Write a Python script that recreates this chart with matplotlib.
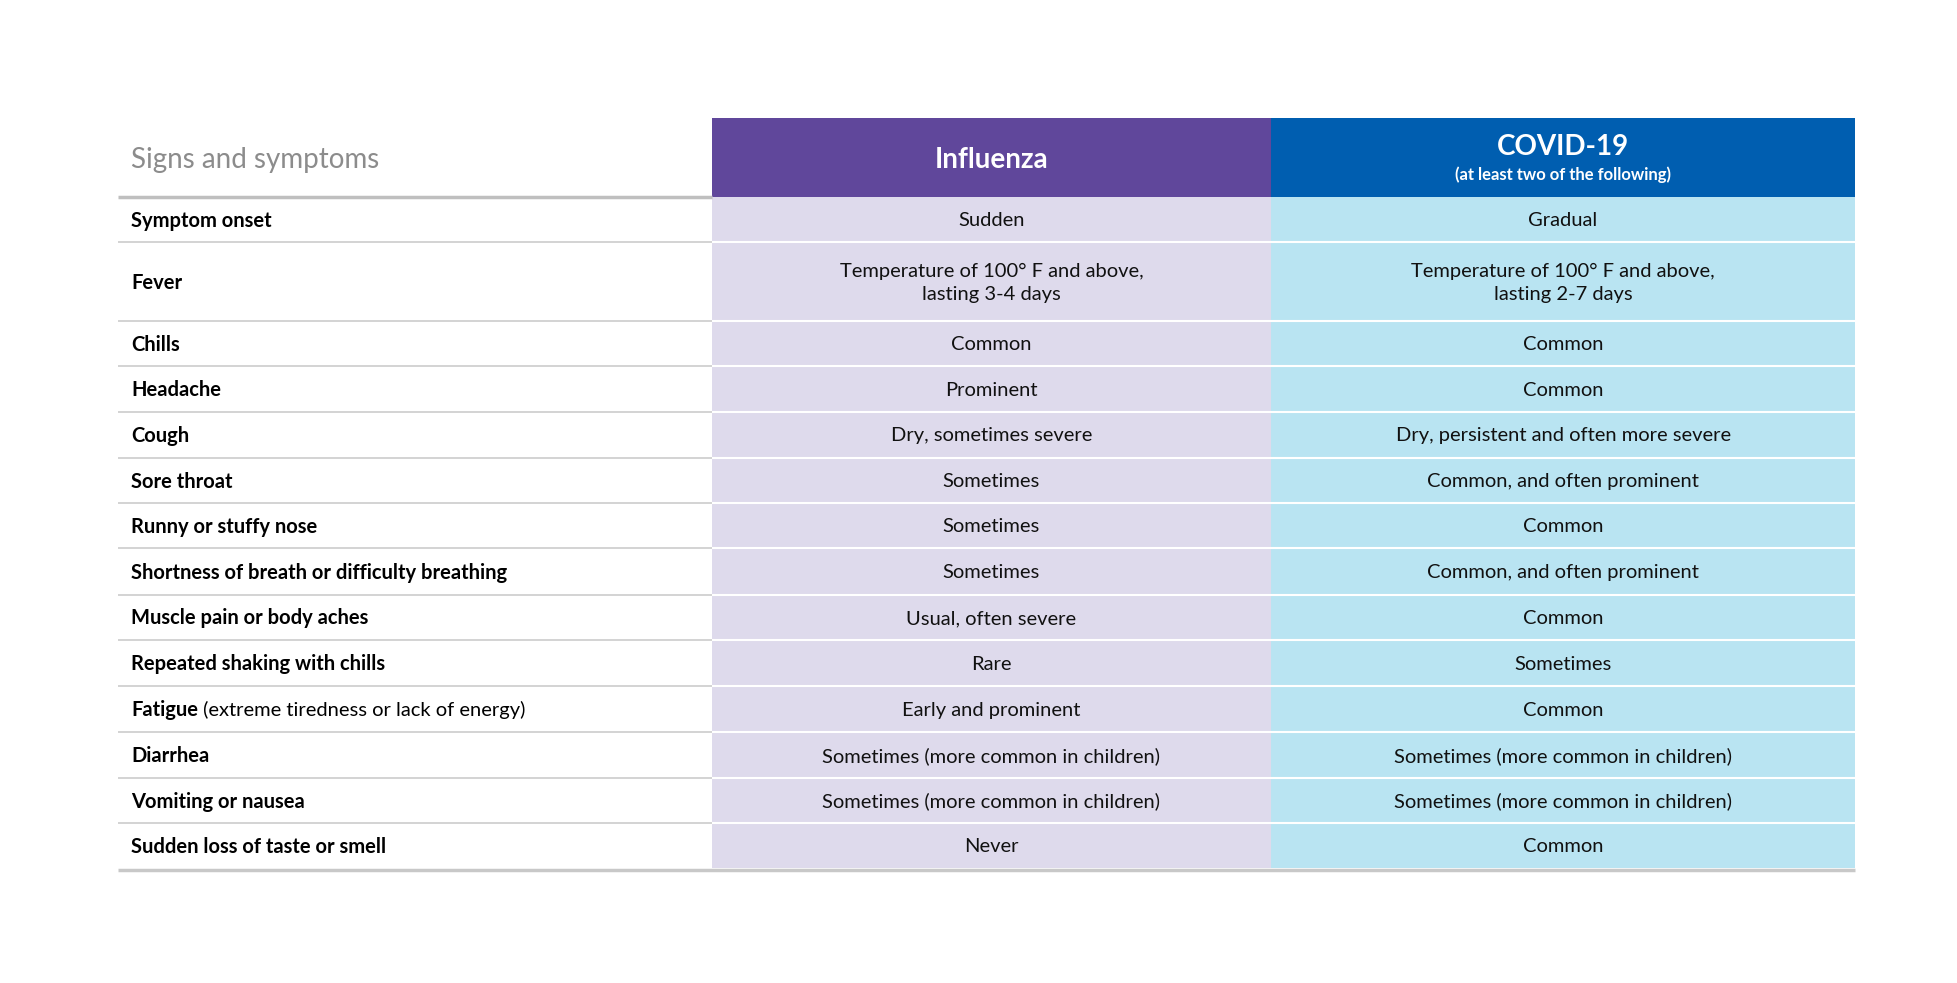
import matplotlib
matplotlib.use("Agg")
import matplotlib.pyplot as plt
from matplotlib.patches import Rectangle

symptoms = ["Symptom onset", "Fever", "Chills", "Headache", "Cough", "Sore throat",
            "Runny or stuffy nose", "Shortness of breath or difficulty breathing",
            "Muscle pain or body aches", "Repeated shaking with chills", "Fatigue",
            "Diarrhea", "Vomiting or nausea", "Sudden loss of taste or smell"]
symptom_notes = {"Fatigue": " (extreme tiredness or lack of energy)"}
influenza = ["Sudden", "Temperature of 100° F and above,\nlasting 3-4 days", "Common", "Prominent",
             "Dry, sometimes severe", "Sometimes", "Sometimes", "Sometimes", "Usual, often severe",
             "Rare", "Early and prominent", "Sometimes (more common in children)",
             "Sometimes (more common in children)", "Never"]
covid = ["Gradual", "Temperature of 100° F and above,\nlasting 2-7 days", "Common", "Common",
         "Dry, persistent and often more severe", "Common, and often prominent", "Common",
         "Common, and often prominent", "Common", "Sometimes", "Common",
         "Sometimes (more common in children)", "Sometimes (more common in children)", "Common"]
headers = ["Signs and symptoms", "Influenza", "COVID-19"]
covid_sub = "(at least two of the following)"

S = 1.255
x0, x1, x2, x3 = 94*S, 567*S, 1013*S, 1478*S
htop, hbot = 94*S, 157*S
row_edges = [157, 193, 256, 292, 328, 365, 401, 437, 474, 510, 547, 583, 620, 656, 692]
row_edges = [r*S for r in row_edges]

FONT = "Lato"
fig = plt.figure(figsize=(19.58, 9.83), dpi=100)
ax = fig.add_axes([0, 0, 1, 1])
ax.set_xlim(0, 1958); ax.set_ylim(983, 0); ax.axis("off")

ax.add_patch(Rectangle((x1, htop), x2-x1, hbot-htop, color="#60479B", lw=0))
ax.add_patch(Rectangle((x2, htop), x3-x2, hbot-htop, color="#005EB0", lw=0))
ax.add_patch(Rectangle((x1, hbot), x2-x1, row_edges[-1]-hbot, color="#DEDAEC", lw=0))
ax.add_patch(Rectangle((x2, hbot), x3-x2, row_edges[-1]-hbot, color="#B9E4F2", lw=0))

ax.text(x0+13, (htop+hbot)/2+2, headers[0], fontfamily=FONT, fontsize=20, color="#8C8C8C", va="center")
ax.text((x1+x2)/2, (htop+hbot)/2+2, headers[1], fontfamily=FONT, fontsize=20, fontweight="bold", color="white", ha="center", va="center")
ax.text((x2+x3)/2, (htop+hbot)/2-11, headers[2], fontfamily=FONT, fontsize=20, fontweight="bold", color="white", ha="center", va="center")
ax.text((x2+x3)/2, (htop+hbot)/2+17, covid_sub, fontfamily=FONT, fontsize=12, fontweight="bold", color="white", ha="center", va="center")

ax.plot([x0, x1], [hbot, hbot], color="#BFBFBF", lw=2.5, solid_capstyle="butt")
for i, r in enumerate(row_edges[1:-1]):
    ax.plot([x0, x1], [r, r], color="#CCCCCC", lw=1.2, solid_capstyle="butt")
    ax.plot([x1, x3], [r, r], color="white", lw=1.5, solid_capstyle="butt")
ax.plot([x0, x3], [row_edges[-1]+1.5, row_edges[-1]+1.5], color="#C8C8C8", lw=2.5, solid_capstyle="butt")

fig.canvas.draw()
rend = fig.canvas.get_renderer()
for i, name in enumerate(symptoms):
    yc = (row_edges[i] + row_edges[i+1]) / 2 + 1
    t = ax.text(x0+13, yc, name, fontfamily=FONT, fontsize=14.5, fontweight="bold", color="black", va="center")
    if name in symptom_notes:
        bb = t.get_window_extent(rend)
        ax.text(bb.x1, yc, symptom_notes[name], fontfamily=FONT, fontsize=14.5, color="black", va="center")
    ax.text((x1+x2)/2, yc, influenza[i], fontfamily=FONT, fontsize=14.5, color="#111111", ha="center", va="center", linespacing=1.4)
    ax.text((x2+x3)/2, yc, covid[i], fontfamily=FONT, fontsize=14.5, color="#111111", ha="center", va="center", linespacing=1.4)

fig.savefig("out.png", dpi=100)
